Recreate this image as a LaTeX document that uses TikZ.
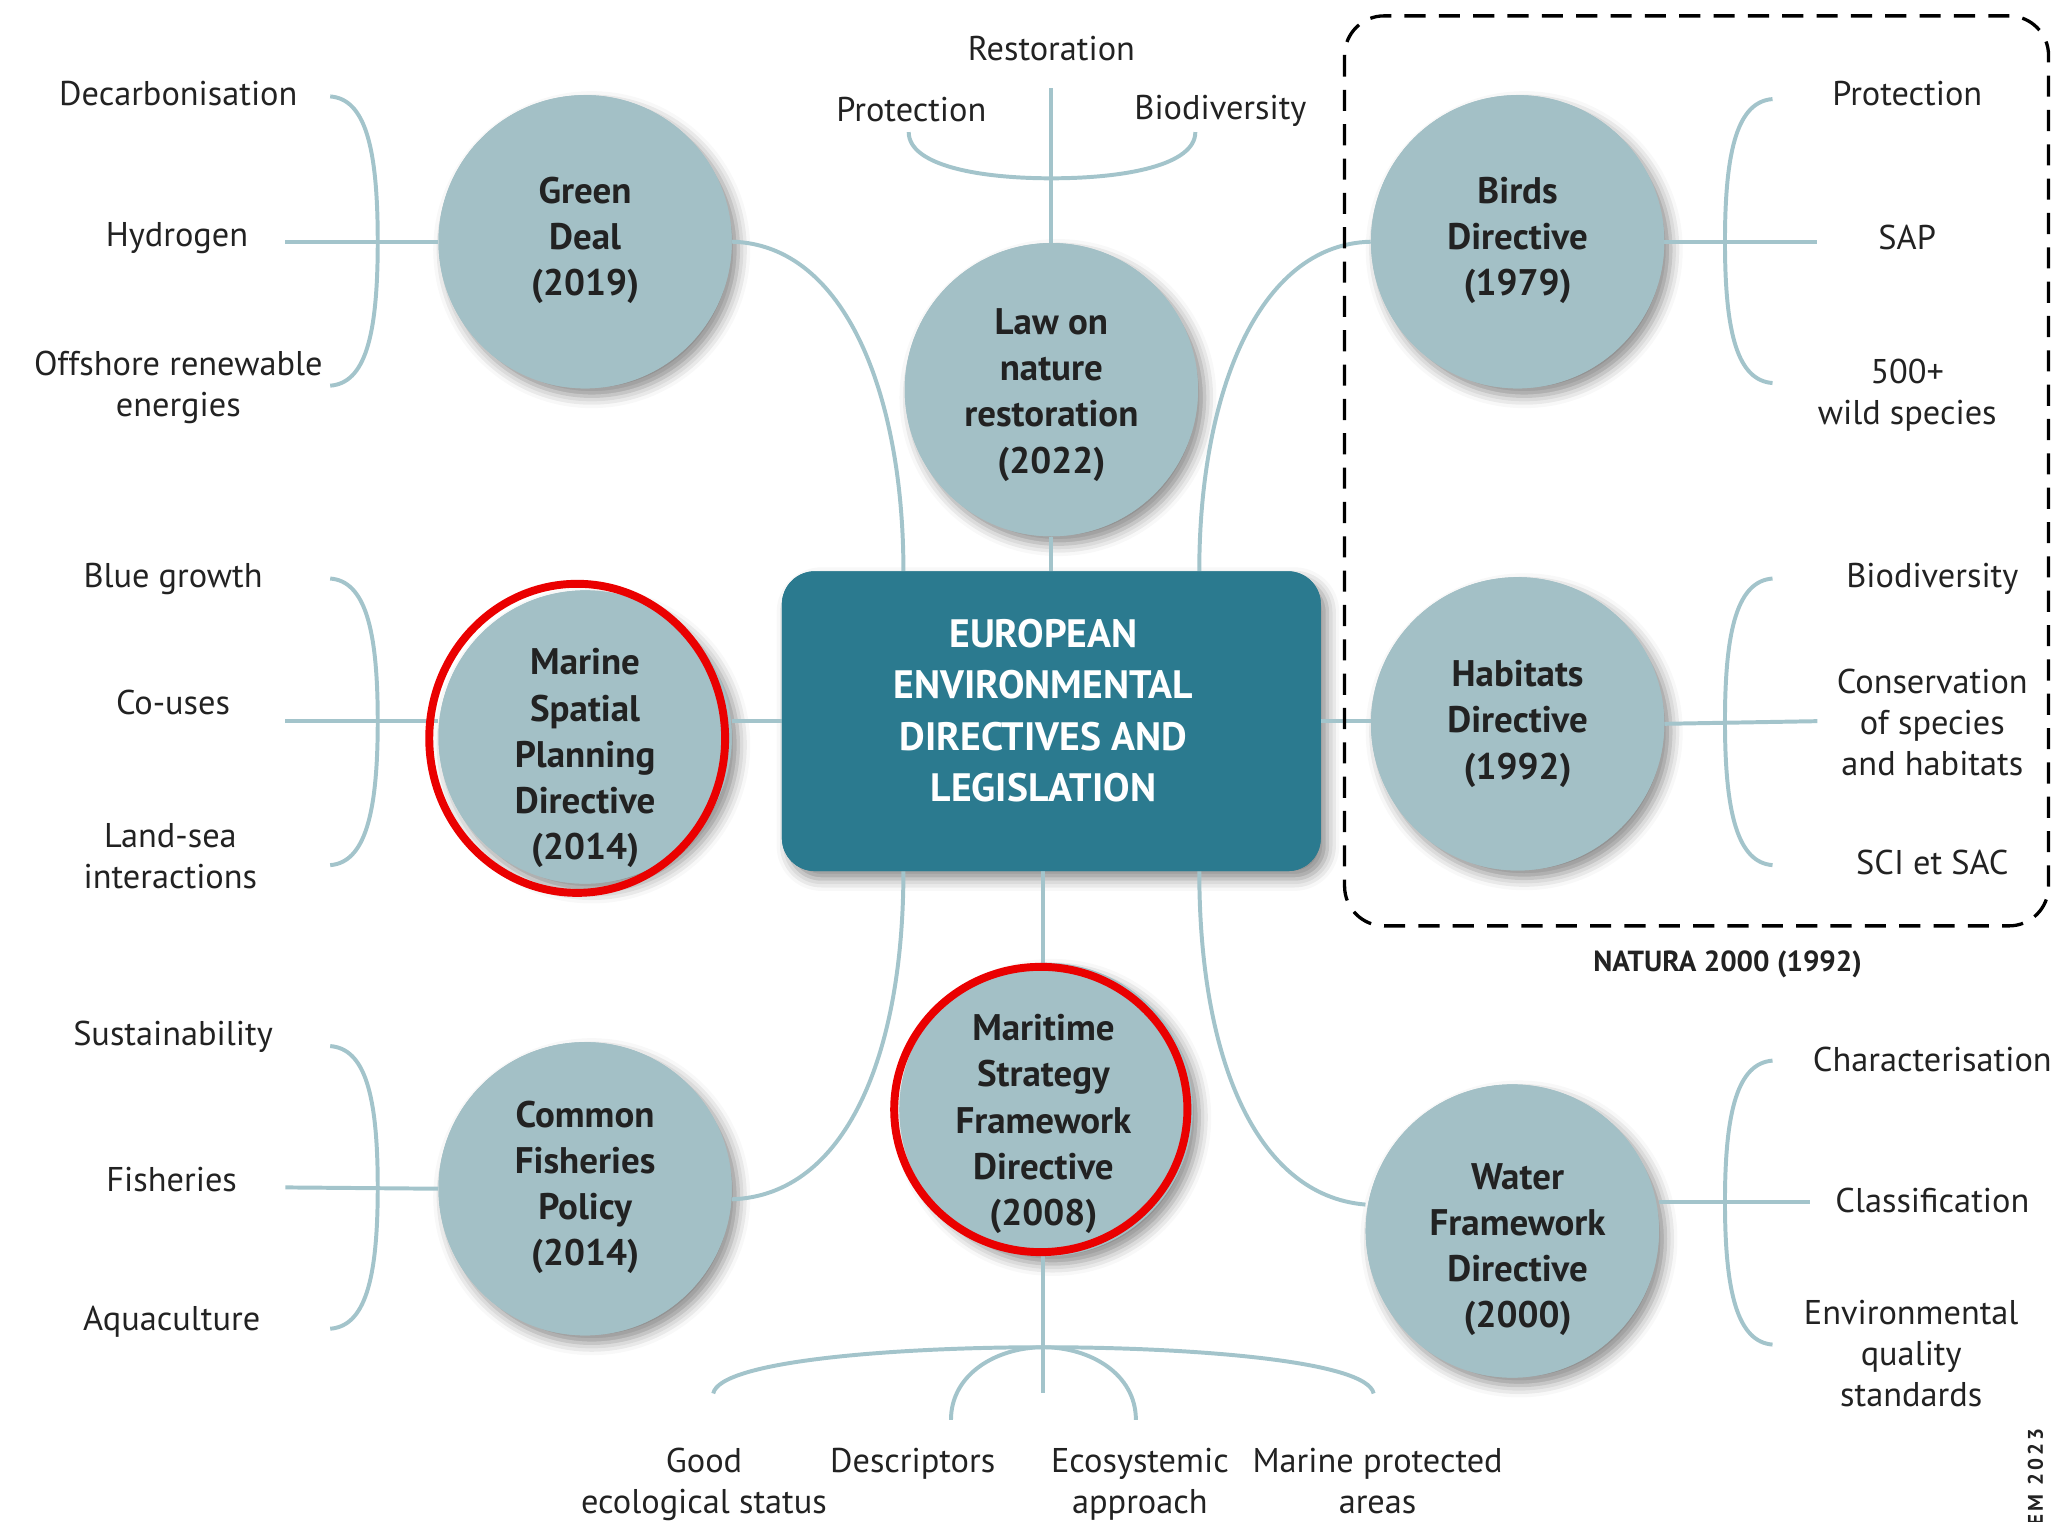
\documentclass[tikz,border=0pt]{standalone}
\usepackage{fontspec}
\setmainfont{PT Sans}
\usetikzlibrary{shadows.blur,calc}
\definecolor{circfill}{RGB}{163,192,198}
\definecolor{linec}{RGB}{163,196,203}
\definecolor{boxfill}{RGB}{43,122,143}
\definecolor{ringred}{RGB}{234,0,0}
\definecolor{txt}{RGB}{34,34,34}
\begin{document}
\begin{tikzpicture}[x=1pt,y=-1pt,
  conn/.style={draw=linec,line width=3pt},
  circ/.style={circle,fill=circfill,minimum size=222pt,inner sep=0pt,
    blur shadow={shadow xshift=5pt,shadow yshift=-6pt,shadow blur radius=9pt,shadow opacity=45}},
  ctext/.style={align=center,font=\fontsize{28}{35}\selectfont\bfseries,text=txt},
  lab/.style={align=center,font=\fontsize{26}{31}\selectfont,text=txt},
  ring/.style={draw=ringred,line width=6pt}]
\useasboundingbox (0,0) rectangle (1568,1152);

% ---------- circles and central box ----------
\node[fill=boxfill,rounded corners=25pt,minimum width=408pt,minimum height=227pt,inner sep=0pt,
  blur shadow={shadow xshift=5pt,shadow yshift=-6pt,shadow blur radius=9pt,shadow opacity=45}] (central) at (796,546) {};

\node[circ] (gd) at (443,183) {};
\node[circ] (law) at (796,295) {};
\node[circ] (birds) at (1149,183) {};
\node[circ] (msp) at (443,558) {};
\node[circ] (hab) at (1149,548) {};
\node[circ] (cfp) at (443,900) {};
\node[circ] (msfd) at (792,840) {};
\node[circ] (wfd) at (1145,932) {};

% ---------- free-end coordinates ----------
\coordinate (gdl) at (216,183);
\coordinate (mspl) at (216,546);
\coordinate (cfpl) at (216,899);
\coordinate (birdsr) at (1376,183);
\coordinate (habr) at (1376,546);
\coordinate (wfdr) at (1370,910);
\coordinate (lawtop) at (796,67);
\coordinate (lawbr) at (796,135);
\coordinate (msfdbot) at (790,1055);
\coordinate (msfdbr) at (790,1020);

% ---------- brackets ----------
\draw[conn] (250,73) .. controls (276,75) and (286,110) .. (286,183) .. controls (286,256) and (276,290) .. (250,292);
\draw[conn] (250,438) .. controls (276,440) and (286,475) .. (286,546) .. controls (286,617) and (276,653) .. (250,655);
\draw[conn] (250,792) .. controls (276,794) and (286,828) .. (286,899) .. controls (286,970) and (276,1004) .. (250,1006);
\draw[conn] (1342,75) .. controls (1316,77) and (1306,112) .. (1306,183) .. controls (1306,254) and (1316,288) .. (1342,290);
\draw[conn] (1342,438) .. controls (1316,440) and (1306,475) .. (1306,546) .. controls (1306,617) and (1316,653) .. (1342,655);
\draw[conn] (1342,803) .. controls (1316,805) and (1306,840) .. (1306,910) .. controls (1306,980) and (1316,1016) .. (1342,1018);
\draw[conn] (688,100) .. controls (688,125) and (740,135) .. (lawbr) .. controls (852,135) and (905,125) .. (905,100);
\draw[conn] (540,1055) .. controls (545,1030) and (680,1020) .. (msfdbr) .. controls (900,1020) and (1035,1030) .. (1040,1055);
\draw[conn] (720,1075) .. controls (720,1040) and (755,1020) .. (msfdbr) .. controls (825,1020) and (860,1040) .. (860,1075);

% ---------- connectors ----------
\draw[conn] (gdl) -- (gd.west);
\draw[conn] (mspl) -- (mspl -| msp.west);
\draw[conn] (cfpl) -- (cfp.west);
\draw[conn] (birds.east) -- (birdsr);
\draw[conn] (hab.east) -- (habr);
\draw[conn] (wfd.east |- wfdr) -- (wfdr);
\draw[conn] (lawtop) -- (law.north);
\draw[conn] (law.south) -- (central.north -| law.south);
\draw[conn] (central.west) -- (central.west -| msp.east);
\draw[conn] (central.east) -- (central.east -| hab.west);
\draw[conn] (central.south -| msfdbot) -- (msfd.north -| msfdbot);
\draw[conn] (msfd.south -| msfdbot) -- (msfdbot);
\draw[conn] (gd.east) .. controls (640,185) and ($(central.north)+(-112,-133)$) .. ($(central.north)+(-112,0)$);
\draw[conn] (birds.west) .. controls (952,185) and ($(central.north)+(112,-133)$) .. ($(central.north)+(112,0)$);
\draw[conn] ($(central.south)+(-112,0)$) .. controls ($(central.south)+(-112,140)$) and (640,905) .. ($(cfp.east)+(0,8)$);
\draw[conn] ($(central.south)+(112,0)$) .. controls ($(central.south)+(112,140)$) and (950,905) .. ($(wfd.west)+(0,-20)$);

% redraw circles and box on top of connectors
\node[fill=boxfill,rounded corners=25pt,minimum width=408pt,minimum height=227pt,inner sep=0pt] at (central) {};
\foreach \n in {gd,law,birds,msp,hab,cfp,msfd,wfd}{
  \node[circle,fill=circfill,minimum size=222pt,inner sep=0pt] at (\n) {};
}

% ---------- dashed Natura 2000 frame ----------
\draw[black,line width=2.5pt,dash pattern=on 16pt off 10pt,rounded corners=30pt] (1018,12) rectangle (1551,701);
\node[font=\fontsize{22}{26}\selectfont\bfseries,text=txt] (natura) at (1308,730) {NATURA 2000 (1992)};

% ---------- red rings ----------
\draw[ring] (437,559) ellipse [x radius=112, y radius=117];
\draw[ring] (788,840) ellipse [x radius=111, y radius=108];

% ---------- circle texts ----------
\node[ctext] (gdt) at (443,182) {Green\\Deal\\(2019)};
\node[ctext] (lawt) at (796,299) {Law on\\nature\\restoration\\(2022)};
\node[ctext] (birdst) at (1149,182) {Birds\\Directive\\(1979)};
\node[ctext] (mspt) at (443,574) {Marine\\Spatial\\Planning\\Directive\\(2014)};
\node[ctext] (habt) at (1149,548) {Habitats\\Directive\\(1992)};
\node[ctext] (cfpt) at (443,899) {Common\\Fisheries\\Policy\\(2014)};
\node[ctext] (msfdt) at (790,851) {Maritime\\Strategy\\Framework\\Directive\\(2008)};
\node[ctext] (wfdt) at (1149,946) {Water\\Framework\\Directive\\(2000)};

\node[align=center,font=\fontsize{30}{39}\selectfont\bfseries,text=white] (centralt) at (790,538)
  {EUROPEAN\\ENVIRONMENTAL\\DIRECTIVES AND\\LEGISLATION};

% ---------- labels ----------
\node[lab] (l1) at (135,71) {Decarbonisation};
\node[lab] (l2) at (134,180) {Hydrogen};
\node[lab] (l3) at (135,293) {Offshore renewable\\energies};
\node[lab] (l4) at (796,37) {Restoration};
\node[lab] (l5) at (690,83) {Protection};
\node[lab] (l6) at (924,84) {Biodiversity};
\node[lab] (l7) at (1444,71) {Protection};
\node[lab] (l8) at (1444,180) {SAP};
\node[lab] (l9) at (1444,299) {500+\\wild species};
\node[lab] (l10) at (1463,438) {Biodiversity};
\node[lab] (l11) at (1463,547) {Conservation\\of species\\and habitats};
\node[lab] (l12) at (1463,653) {SCI et SAC};
\node[lab] (l13) at (131,438) {Blue growth};
\node[lab] (l14) at (131,532) {Co-uses};
\node[lab] (l15) at (129,648) {Land-sea\\interactions};
\node[lab] (l16) at (131,785) {Sustainability};
\node[lab] (l17) at (130,893) {Fisheries};
\node[lab] (l18) at (130,1001) {Aquaculture};
\node[lab] (l19) at (1463,802) {Characterisation};
\node[lab] (l20) at (1463,909) {Classification};
\node[lab] (l21) at (1447,1025) {Environmental\\quality\\standards};
\node[lab] (l22) at (533,1124) {Good\\ecological status};
\node[lab] (l23) at (691,1108) {Descriptors};
\node[lab] (l24) at (863,1124) {Ecosystemic\\approach};
\node[lab] (l25) at (1043,1121) {Marine protected\\areas};
\node[rotate=90,font=\fontsize{16}{16}\selectfont\bfseries\addfontfeature{LetterSpace=15},text=txt] (copy) at (1541,1118) {EM 2023};
\end{tikzpicture}
\end{document}
